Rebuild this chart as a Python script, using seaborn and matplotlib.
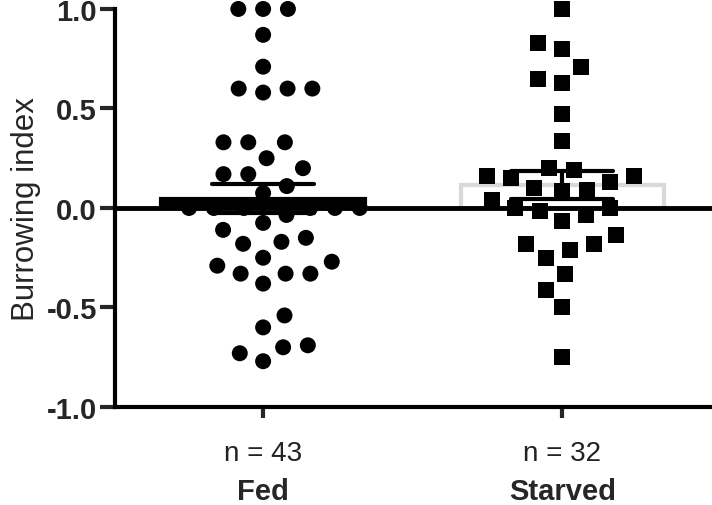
import numpy as np
import pandas as pd
import matplotlib
matplotlib.use("Agg")
import matplotlib.pyplot as plt
import seaborn as sns

# values
groups = ["Fed", "Starved"]
fed_values = [1.0, 1.0, 1.0, 0.87, 0.71, 0.60, 0.58, 0.60, 0.60,
              0.33, 0.33, 0.33, 0.25, 0.20, 0.17, 0.17, 0.11, 0.075,
              0.0, 0.0, 0.0, 0.0, 0.0, 0.0,
              -0.035, -0.075, -0.11, -0.15, -0.17, -0.18, -0.25, -0.27, -0.29,
              -0.33, -0.33, -0.33, -0.38, -0.54, -0.60, -0.70, -0.69, -0.73, -0.77]
starved_values = [1.0, 0.83, 0.80, 0.71, 0.65, 0.63, 0.47, 0.335, 0.20, 0.19,
                  0.16, 0.16, 0.15, 0.13, 0.10, 0.09, 0.085, 0.04, 0.0, 0.0,
                  -0.015, -0.035, -0.065, -0.135, -0.18, -0.18, -0.21, -0.25,
                  -0.33, -0.41, -0.50, -0.75]
yticks = [-1.0, -0.5, 0.0, 0.5, 1.0]
ytick_labels = ["-1.0", "-0.5", "0.0", "0.5", "1.0"]

df = pd.DataFrame({
    "group": ["Fed"] * len(fed_values) + ["Starved"] * len(starved_values),
    "value": fed_values + starved_values,
})

sns.set_style("white")
plt.rcParams["font.family"] = ["Liberation Sans", "DejaVu Sans"]

fig = plt.figure(figsize=(7.12, 5.06), dpi=100)
ax = fig.add_axes([0.1615, 0.1937, 0.8385, 0.7866])

#mean bar with sem error bars
sns.barplot(data=df, x="group", y="value", order=groups, errorbar="se",
            width=0.68, capsize=0.34, color="white", linewidth=3,
            err_kws={"color": "black", "linewidth": 3}, ax=ax)
bar_faces = ["black", "white"]
bar_edges = ["black", "#d9d9d9"]
for patch, fc, ec in zip(ax.patches, bar_faces, bar_edges):
    patch.set_facecolor(fc)
    patch.set_edgecolor(ec)
    patch.set_zorder(0.5)

ax.axhline(0, color="black", linewidth=3.5, zorder=2)

#individual animals, edge width only adds spacing in the swarm
sns.swarmplot(data=df[df["group"] == "Fed"], x="group", y="value", order=groups,
              marker="o", color="black", size=11.5, linewidth=5.5,
              edgecolor="none", zorder=3, ax=ax)
sns.swarmplot(data=df[df["group"] == "Starved"], x="group", y="value", order=groups,
              marker="s", color="black", size=11.5, linewidth=5.5,
              edgecolor="none", zorder=3, ax=ax)

# drop empty swarms, let the points at 1.0 spill over the axes top
for coll in list(ax.collections):
    if len(coll.get_offsets()) == 0:
        coll.remove()
    else:
        coll.set_clip_on(False)

ax.set_ylim(-1.0, 1.0)
ax.set_xlim(-0.495, 1.5)
ax.set_yticks(yticks)
ax.set_yticklabels(ytick_labels, fontsize=21, fontweight="bold")
ax.set_xticks([0, 1])
ax.set_xticklabels([f"n = {len(fed_values)}", f"n = {len(starved_values)}"],
                   fontsize=20, color="#222222")
ax.set_xlabel("")
ax.set_ylabel("Burrowing index", fontsize=22.5, labelpad=4)

for i, g in enumerate(groups):
    ax.text(i, -0.21, g, transform=ax.get_xaxis_transform(), ha="center",
            va="center", fontsize=21, fontweight="bold")

ax.tick_params(axis="y", direction="out", length=11, width=3, pad=2, left=True)
ax.tick_params(axis="x", direction="out", length=8, width=3, pad=16, bottom=True)
for side in ["top", "right"]:
    ax.spines[side].set_visible(False)
for side in ["left", "bottom"]:
    ax.spines[side].set_linewidth(3)
    ax.spines[side].set_color("black")

fig.savefig("out.png", dpi=100)
